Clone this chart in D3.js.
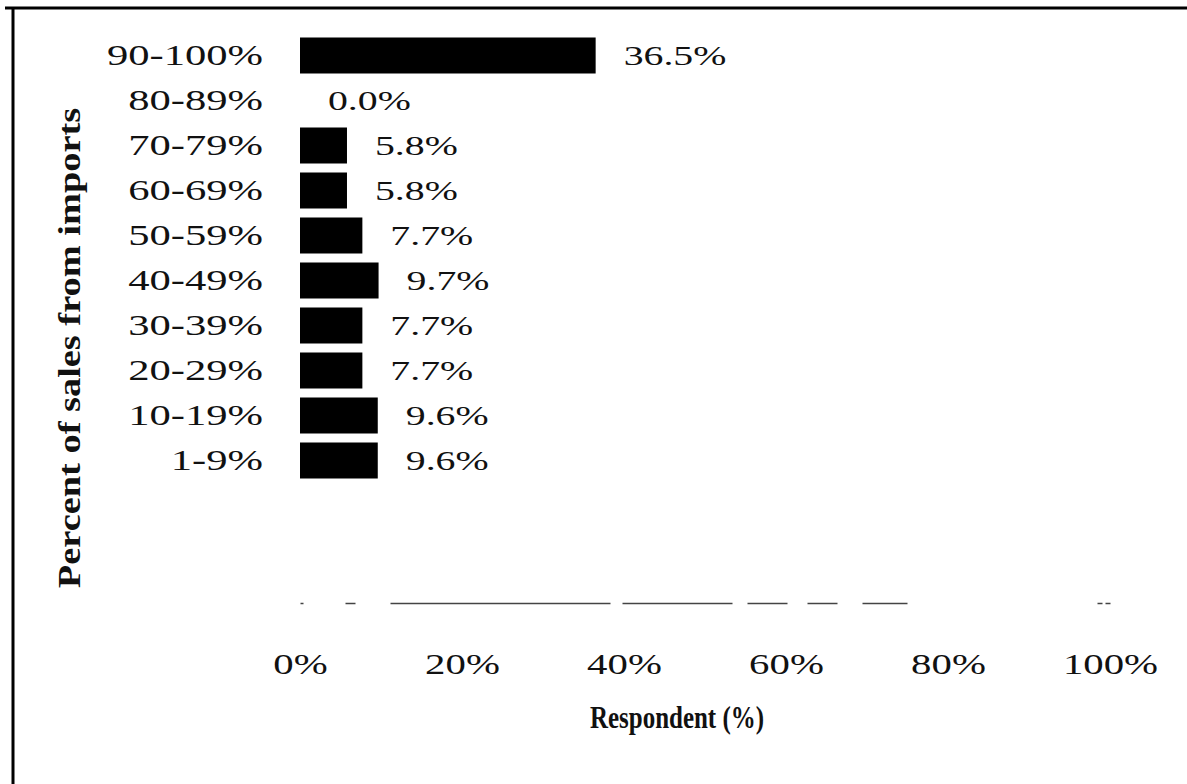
<!DOCTYPE html>
<html>
<head>
<meta charset="utf-8">
<script src="https://cdn.jsdelivr.net/npm/d3@7"></script>
<style>
  html, body { margin: 0; padding: 0; background: #fff; }
  svg { display: block; }
  text { font-family: "Liberation Serif", "Times New Roman", serif; fill: #111; }
</style>
</head>
<body>
<svg id="chart" width="1187" height="784"></svg>
<script>
// ---- data ----
const categories = ["90-100%", "80-89%", "70-79%", "60-69%", "50-59%", "40-49%", "30-39%", "20-29%", "10-19%", "1-9%"];
const values = [36.5, 0.0, 5.8, 5.8, 7.7, 9.7, 7.7, 7.7, 9.6, 9.6];
const xTicks = [0, 20, 40, 60, 80, 100];
const xTitle = "Respondent (%)";
const yTitle = "Percent of sales from imports";

// ---- chart ----
const W = 1187, H = 784;
const svg = d3.select("#chart");
svg.append("rect").attr("width", W).attr("height", H).attr("fill", "#fff");

// frame (top and left borders visible in the scan)
svg.append("line").attr("x1", 5).attr("x2", W).attr("y1", 8).attr("y2", 8)
  .attr("stroke", "#000").attr("stroke-width", 3);
svg.append("line").attr("x1", 13).attr("x2", 13).attr("y1", 7).attr("y2", H)
  .attr("stroke", "#000").attr("stroke-width", 3);

const x = d3.scaleLinear().domain([0, 100]).range([300, 1110]);
const y = d3.scaleBand().domain(categories).range([33, 483]).paddingInner(0.2).paddingOuter(0.1);

const data = categories.map((c, i) => ({ cat: c, val: values[i] }));

// bars
svg.append("g").selectAll("rect").data(data).join("rect")
  .attr("x", x(0))
  .attr("y", d => y(d.cat))
  .attr("width", d => x(d.val) - x(0))
  .attr("height", y.bandwidth())
  .attr("fill", "#000");

// value labels (scan text is horizontally stretched)
svg.append("g").selectAll("text").data(data).join("text")
  .attr("transform", d => `translate(${x(d.val) + 28},${y(d.cat) + y.bandwidth() / 2}) scale(1.42,1)`)
  .attr("dy", "0.35em")
  .attr("font-size", 28)
  .text(d => d3.format(".1f")(d.val) + "%");

// category axis (labels only)
const yAxis = svg.append("g").attr("transform", "translate(263,0)")
  .call(d3.axisLeft(y).tickSize(0).tickPadding(0));
yAxis.select(".domain").remove();
yAxis.selectAll("text")
  .attr("font-size", 30).attr("font-family", "Liberation Serif, serif").attr("fill", "#111")
  .attr("transform", "scale(1.42,1)");

// value axis
const xAxis = svg.append("g").attr("transform", "translate(0,603)")
  .call(d3.axisBottom(x).tickValues(xTicks).tickSize(0).tickPadding(50).tickFormat(d => d + "%"));
xAxis.select(".domain").attr("stroke", "#444").attr("stroke-width", 1.6)
  .attr("stroke-dasharray", "3,42,10,35,220,12,110,15,40,20,30,25,45,190,5");
xAxis.selectAll("text")
  .attr("font-size", 30).attr("font-family", "Liberation Serif, serif").attr("fill", "#111")
  .attr("transform", "scale(1.36,1)");
xAxis.selectAll(".tick").each(function(d) {
  // keep the label centred on its tick after stretching
  d3.select(this).select("text").attr("transform", "scale(1.36,1)");
});

// axis titles
svg.append("text")
  .attr("transform", "translate(677,728) scale(0.78,1)")
  .attr("text-anchor", "middle")
  .attr("font-size", 32).attr("font-weight", "bold")
  .text(xTitle);

svg.append("text")
  .attr("transform", "translate(80,348) rotate(-90) scale(1.2,1)")
  .attr("text-anchor", "middle")
  .attr("font-size", 32).attr("font-weight", "bold")
  .text(yTitle);
</script>
</body>
</html>
